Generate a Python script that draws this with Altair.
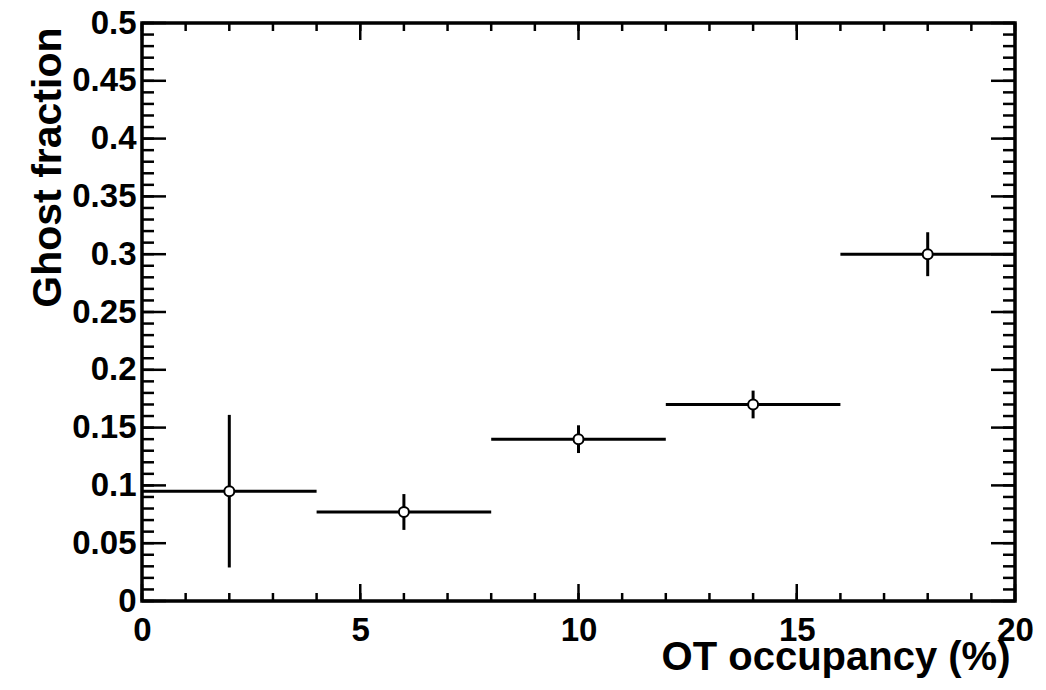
import altair as alt
import pandas as pd

# Ghost fraction per OT occupancy bin (bins 4 % wide)
occupancy = [2, 6, 10, 14, 18]
bin_half_width = [2, 2, 2, 2, 2]
ghost_fraction = [0.095, 0.077, 0.140, 0.170, 0.300]
ghost_error = [0.066, 0.0155, 0.012, 0.012, 0.019]

# Axis tick positions (major ticks carry labels)
x_major = [0, 5, 10, 15, 20]
x_minor = list(range(0, 21))
y_major = [0, 0.05, 0.1, 0.15, 0.2, 0.25, 0.3, 0.35, 0.4, 0.45, 0.5]
y_minor = [round(i * 0.01, 2) for i in range(51)]

W, H = 873, 578
FONT = "Liberation Sans"

df = pd.DataFrame({
    "x": occupancy,
    "xlo": [c - h for c, h in zip(occupancy, bin_half_width)],
    "xhi": [c + h for c, h in zip(occupancy, bin_half_width)],
    "y": ghost_fraction,
    "ylo": [v - e for v, e in zip(ghost_fraction, ghost_error)],
    "yhi": [v + e for v, e in zip(ghost_fraction, ghost_error)],
})

xs = alt.Scale(domain=[0, 20], nice=False, zero=False)
ys = alt.Scale(domain=[0, 0.5], nice=False)

x_axis = alt.Axis(
    values=x_major, format="~g", ticks=False, tickSize=0, domain=False, grid=False,
    labelFont=FONT, labelFontWeight="bold", labelFontSize=33, labelColor="black",
    labelPadding=13, labelFlush=False, labelOverlap=False,
    title="OT occupancy (%)", titleFont=FONT, titleFontWeight="bold", titleFontSize=40,
    titleColor="black", titleAnchor="end", titleAlign="right", titleBaseline="alphabetic",
    titleX=868, titleY=68,
)
y_axis = alt.Axis(
    values=y_major, format="~g", ticks=False, tickSize=0, domain=False, grid=False,
    labelFont=FONT, labelFontWeight="bold", labelFontSize=33, labelColor="black",
    labelPadding=6, labelFlush=False, labelOverlap=False,
    title="Ghost fraction", titleFont=FONT, titleFontWeight="bold", titleFontSize=41,
    titleColor="black", titleAnchor="end", titleAlign="right", titleBaseline="alphabetic",
    titleAngle=270, titleX=-82, titleY=4,
)


def X(field):
    return alt.X(field, scale=xs, axis=x_axis)


def Y(field):
    return alt.Y(field, scale=ys, axis=y_axis)


base = alt.Chart(df)

# horizontal bars spanning each bin
xbars = base.mark_rule(color="black", strokeWidth=3).encode(
    x=X("xlo:Q"), x2="xhi:Q", y=Y("y:Q"),
)
# vertical statistical error bars
ybars = base.mark_rule(color="black", strokeWidth=3).encode(
    x=X("x:Q"), y=Y("ylo:Q"), y2="yhi:Q",
)
points = base.mark_point(
    shape="circle", filled=True, fill="white", stroke="black", strokeWidth=2,
    size=100, opacity=1,
).encode(x=X("x:Q"), y=Y("y:Q"))

# inward ticks on all four sides of the frame
xmaj = pd.DataFrame({"t": x_major})
xmin = pd.DataFrame({"t": x_minor})
ymaj = pd.DataFrame({"t": y_major})
ymin = pd.DataFrame({"t": y_minor})


def xticks(data, length):
    bottom = alt.Chart(data).mark_rule(color="black", strokeWidth=2.5).encode(
        x=X("t:Q"), y=alt.value(H), y2=alt.value(H - length))
    top = alt.Chart(data).mark_rule(color="black", strokeWidth=2.5).encode(
        x=X("t:Q"), y=alt.value(0), y2=alt.value(length))
    return [bottom, top]


def yticks(data, length):
    left = alt.Chart(data).mark_rule(color="black", strokeWidth=2.5).encode(
        y=Y("t:Q"), x=alt.value(0), x2=alt.value(length))
    right = alt.Chart(data).mark_rule(color="black", strokeWidth=2.5).encode(
        y=Y("t:Q"), x=alt.value(W), x2=alt.value(W - length))
    return [left, right]


tick_layers = xticks(xmin, 8) + xticks(xmaj, 17) + yticks(ymin, 12) + yticks(ymaj, 24)

chart = alt.layer(
    *tick_layers, xbars, ybars, points
).properties(
    width=W, height=H,
    autosize=alt.AutoSizeParams(type="none"),
    padding={"left": 142, "top": 23, "right": 31, "bottom": 89},
    background="white",
).configure_view(
    stroke="black", strokeWidth=3.5,
)

chart.save("out.html", embed_options={"renderer": "svg", "actions": False})
